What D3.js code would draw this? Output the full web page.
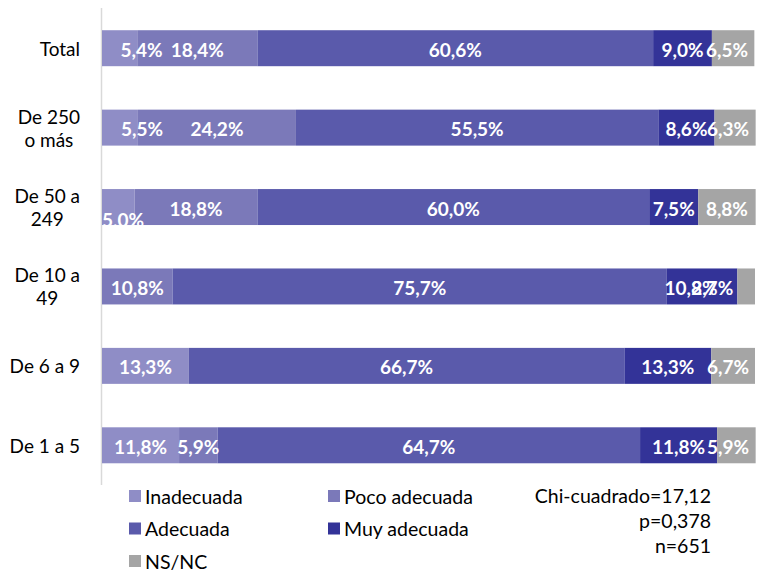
<!DOCTYPE html>
<html>
<head>
<meta charset="utf-8">
<script src="https://cdn.jsdelivr.net/npm/d3@7"></script>
<style>
  html, body { margin: 0; padding: 0; background: #fff; }
  svg { display: block; }
</style>
</head>
<body>
<svg id="chart" width="764" height="571"></svg>
<script>
// ---- data ----
const categories = ["Total", "De 250 o más", "De 50 a 249", "De 10 a 49", "De 6 a 9", "De 1 a 5"];
const categoryLines = [["Total"], ["De 250", "o más"], ["De 50 a", "249"], ["De 10 a", "49"], ["De 6 a 9"], ["De 1 a 5"]];
const seriesNames = ["Inadecuada", "Poco adecuada", "Adecuada", "Muy adecuada", "NS/NC"];
const inadecuada   = [5.4, 5.5, 5.0, 0, 13.3, 11.8];
const pocoAdecuada = [18.4, 24.2, 18.8, 10.8, 0, 5.9];
const adecuada     = [60.6, 55.5, 60.0, 75.7, 66.7, 64.7];
const muyAdecuada  = [9.0, 8.6, 7.5, 10.8, 13.3, 11.8];
const nsnc         = [6.5, 6.3, 8.8, 2.7, 6.7, 5.9];
const statsLines = ["Chi-cuadrado=17,12", "p=0,378", "n=651"];

// ---- styles ----
const colors = ["#8f8dc6", "#7b79b9", "#5a5aab", "#333398", "#a5a5a5"];
const FONT = "Lato, 'Open Sans', sans-serif";

const seriesValues = [inadecuada, pocoAdecuada, adecuada, muyAdecuada, nsnc];
const rows = categories.map((c, i) => {
  const r = { cat: c };
  seriesNames.forEach((s, j) => r[s] = seriesValues[j][i]);
  return r;
});
const stacked = d3.stack().keys(seriesNames)(rows);

const svg = d3.select("#chart");
const x = d3.scaleLinear().domain([0, 100]).range([102, 755]);
const y = d3.scaleBand().domain(categories).range([8.5, 485]).paddingInner(0.547).paddingOuter(0.2735);

// vertical axis line
svg.append("line")
  .attr("x1", 101.5).attr("x2", 101.5)
  .attr("y1", 8).attr("y2", 485)
  .attr("stroke", "#d9d9d9").attr("stroke-width", 1.5);

// bars
const layer = svg.append("g").selectAll("g").data(stacked).join("g")
  .attr("fill", (d, i) => colors[i]);
layer.selectAll("rect").data(d => d.map(p => ({ p, key: d.key })))
  .join("rect")
  .attr("x", d => x(d.p[0]))
  .attr("y", d => y(d.p.data.cat))
  .attr("width", d => Math.max(0, x(d.p[1]) - x(d.p[0])))
  .attr("height", y.bandwidth());

// manual label nudges (like manually dragged labels in the original)
const nudges = {
  "Total|Inadecuada": [22, 0],
  "De 250 o más|Inadecuada": [22, 0],
  "De 50 a 249|Inadecuada": [4, 11],
  "De 10 a 49|Muy adecuada": [-11, 0],
  "De 10 a 49|NS/NC": [-34, 0],
  "Total|NS/NC": [-6, 0]
};

const fmt = v => v.toFixed(1).replace(".", ",") + "%";
const labelG = svg.append("g")
  .attr("font-family", FONT).attr("font-weight", "bold")
  .attr("font-size", "19px").attr("fill", "#fff");

stacked.forEach((s, si) => {
  s.forEach((p, ci) => {
    const val = seriesValues[si][ci];
    if (!(val > 0)) return;
    const cx = (x(p[0]) + x(p[1])) / 2;
    const cy = y(p.data.cat) + y.bandwidth() / 2;
    const t = labelG.append("text")
      .attr("text-anchor", "middle")
      .attr("dominant-baseline", "central")
      .attr("x", cx).attr("y", cy)
      .text(fmt(val));
    const w = t.node().getComputedTextLength();
    let nx = cx;
    if (nx - w / 2 < 102) nx = 102 + w / 2;
    if (nx + w / 2 > 749) nx = 749 - w / 2;
    const key = p.data.cat + "|" + s.key;
    const n = nudges[key] || [0, 0];
    if (nudges[key]) nx = cx + n[0];
    if (key === "De 50 a 249|Inadecuada") nx = 102 + w / 2;
    t.attr("x", nx).attr("y", cy + n[1] + 1);
  });
});

// category labels
const catG = svg.append("g").attr("font-family", FONT).attr("font-size", "19px").attr("fill", "#000");
categories.forEach((c, i) => {
  const lines = categoryLines[i];
  const cy = y(c) + y.bandwidth() / 2;
  const lh = 23;
  const g = catG.append("g");
  const texts = lines.map((ln, k) => g.append("text")
    .attr("text-anchor", "middle")
    .attr("dominant-baseline", "central")
    .attr("y", cy + (k - (lines.length - 1) / 2) * lh)
    .text(ln));
  const maxW = d3.max(texts, t => t.node().getComputedTextLength());
  texts.forEach(t => t.attr("x", 80 - maxW / 2));
});

// legend
const legendItems = [
  { name: seriesNames[0], col: 0, row: 0 },
  { name: seriesNames[1], col: 1, row: 0 },
  { name: seriesNames[2], col: 0, row: 1 },
  { name: seriesNames[3], col: 1, row: 1 },
  { name: seriesNames[4], col: 0, row: 2 }
];
const lg = svg.append("g").attr("font-family", FONT).attr("font-size", "19.5px").attr("fill", "#000");
legendItems.forEach((it) => {
  const lx = it.col === 0 ? 129 : 328;
  const ly = 496 + it.row * 32.5;
  lg.append("rect").attr("x", lx).attr("y", ly - 6).attr("width", 12).attr("height", 12)
    .attr("fill", colors[seriesNames.indexOf(it.name)]);
  lg.append("text").attr("x", lx + 16).attr("y", ly).attr("dominant-baseline", "central").text(it.name);
});

// stats text
const st = svg.append("g").attr("font-family", FONT).attr("font-size", "19.5px").attr("fill", "#000");
statsLines.forEach((s, i) => {
  st.append("text").attr("x", 711).attr("y", 495 + i * 25)
    .attr("text-anchor", "end").attr("dominant-baseline", "central").text(s);
});
</script>
</body>
</html>
